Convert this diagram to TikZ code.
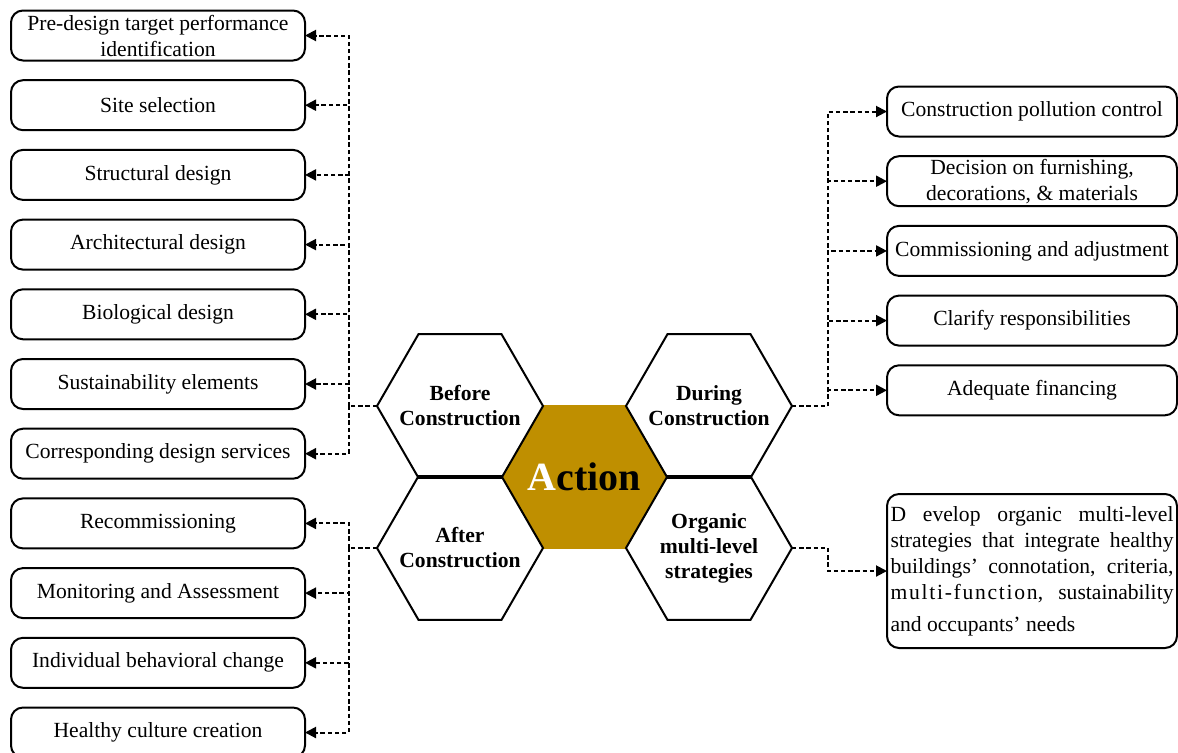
\documentclass[tikz,border=0pt]{standalone}
\usepackage{fontspec}
\setmainfont{Liberation Serif}
\usetikzlibrary{shapes.geometric, arrows.meta, positioning}
\usepackage{xcolor}
\definecolor{actiongold}{RGB}{191,143,0}

\begin{document}
\begin{tikzpicture}[
    x=0.5pt, y=-0.5pt,
    node distance=9.85pt,
    every node/.style={font=\fontsize{10.8}{13}\selectfont},
    box/.style={rectangle, draw, line width=1pt, rounded corners=6pt, minimum width=147pt, minimum height=25pt, align=center, inner xsep=1pt, inner ysep=0.5pt, outer sep=0pt},
    rbox/.style={box, minimum width=145pt},
    hexa/.style={regular polygon, regular polygon sides=6, minimum size=83pt, inner sep=0pt, outer sep=0pt, draw, line width=1pt},
    hexlabel/.style={align=center, font=\fontsize{10.8}{12.5}\selectfont\bfseries},
    arrow/.style={-{Triangle[length=5.5pt, width=5.5pt]}, line width=1pt, dash pattern=on 2.2pt off 1.4pt},
    link/.style={line width=1pt, dash pattern=on 2.2pt off 1.4pt}
]
    \useasboundingbox (0,0) rectangle (1178,752);

    % Honeycomb
    \node[hexa, draw=none, fill=actiongold, label={[font=\fontsize{20}{24}\selectfont\bfseries]center:{\textcolor{white}{A}ction}}] (action) at (584.5,477) {};
    \node[hexa, label={[hexlabel]center:{Before\\Construction}}] (before) at (460,406) {};
    \node[hexa, label={[hexlabel]center:{During\\Construction}}] (during) at (709,406) {};
    \node[hexa, label={[hexlabel]center:{After\\Construction}}] (after) at (460,548) {};
    \node[hexa, label={[hexlabel]center:{Organic\\multi-level\\strategies}}] (organic) at (709,548) {};

    % Before construction column
    \node[box] (predesign) at (158,35.5) {Pre-design target performance\\identification};
    \node[box, below=of predesign] (site) {Site selection};
    \node[box, below=of site] (structural) {Structural design};
    \node[box, below=of structural] (architectural) {Architectural design};
    \node[box, below=of architectural] (biological) {Biological design};
    \node[box, below=of biological] (sustain) {Sustainability elements};
    \node[box, below=of sustain] (services) {Corresponding design services};

    % After construction column
    \node[box, below=of services] (recommission) {Recommissioning};
    \node[box, below=of recommission] (monitoring) {Monitoring and Assessment};
    \node[box, below=of monitoring] (behavior) {Individual behavioral change};
    \node[box, below=of behavior] (culture) {Healthy culture creation};

    % During construction column
    \node[rbox] (pollution) at (1032,111.5) {Construction pollution control};
    \node[rbox, below=of pollution] (furnishing) {Decision on furnishing,\\decorations, \& materials};
    \node[rbox, below=of furnishing] (commissioning) {Commissioning and adjustment};
    \node[rbox, below=of commissioning] (responsib) {Clarify responsibilities};
    \node[rbox, below=of responsib] (financing) {Adequate financing};

    % Organic strategies
    \node[rbox, minimum height=77pt, text width=141.5pt, align=justify, inner xsep=1.5pt] (strategy) at (1032,571)
        {D evelop organic multi-level\linebreak strategies that integrate healthy\linebreak buildings’ connotation, criteria,\linebreak {\addfontfeature{LetterSpace=8}multi-function}, sustainability{\parfillskip=0pt\par}\vspace{3pt}and occupants’ needs};

    % Junctions
    \coordinate (bj) at (349,406);
    \coordinate (aj) at (349,548);
    \coordinate (dj) at (828,406);
    \coordinate (oj) at (828,548);

    % Before arrows
    \draw[link] (before.west) -- (bj);
    \draw[arrow] (bj) |- (predesign.east);
    \draw[arrow] (bj) |- (site.east);
    \draw[arrow] (bj) |- (structural.east);
    \draw[arrow] (bj) |- (architectural.east);
    \draw[arrow] (bj) |- (biological.east);
    \draw[arrow] (bj) |- (sustain.east);
    \draw[arrow] (bj) |- (services.east);

    % After arrows
    \draw[link] (after.west) -- (aj);
    \draw[arrow] (aj) |- (recommission.east);
    \draw[arrow] (aj) |- (monitoring.east);
    \draw[arrow] (aj) |- (behavior.east);
    \draw[arrow] (aj) |- (culture.east);

    % During arrows
    \draw[link] (during.east) -- (dj);
    \draw[arrow] (dj) |- (pollution.west);
    \draw[arrow] (dj) |- (furnishing.west);
    \draw[arrow] (dj) |- (commissioning.west);
    \draw[arrow] (dj) |- (responsib.west);
    \draw[arrow] (dj) |- (financing.west);

    % Organic arrow
    \draw[link] (organic.east) -- (oj);
    \draw[arrow] (oj) |- (strategy.west);
\end{tikzpicture}
\end{document}
